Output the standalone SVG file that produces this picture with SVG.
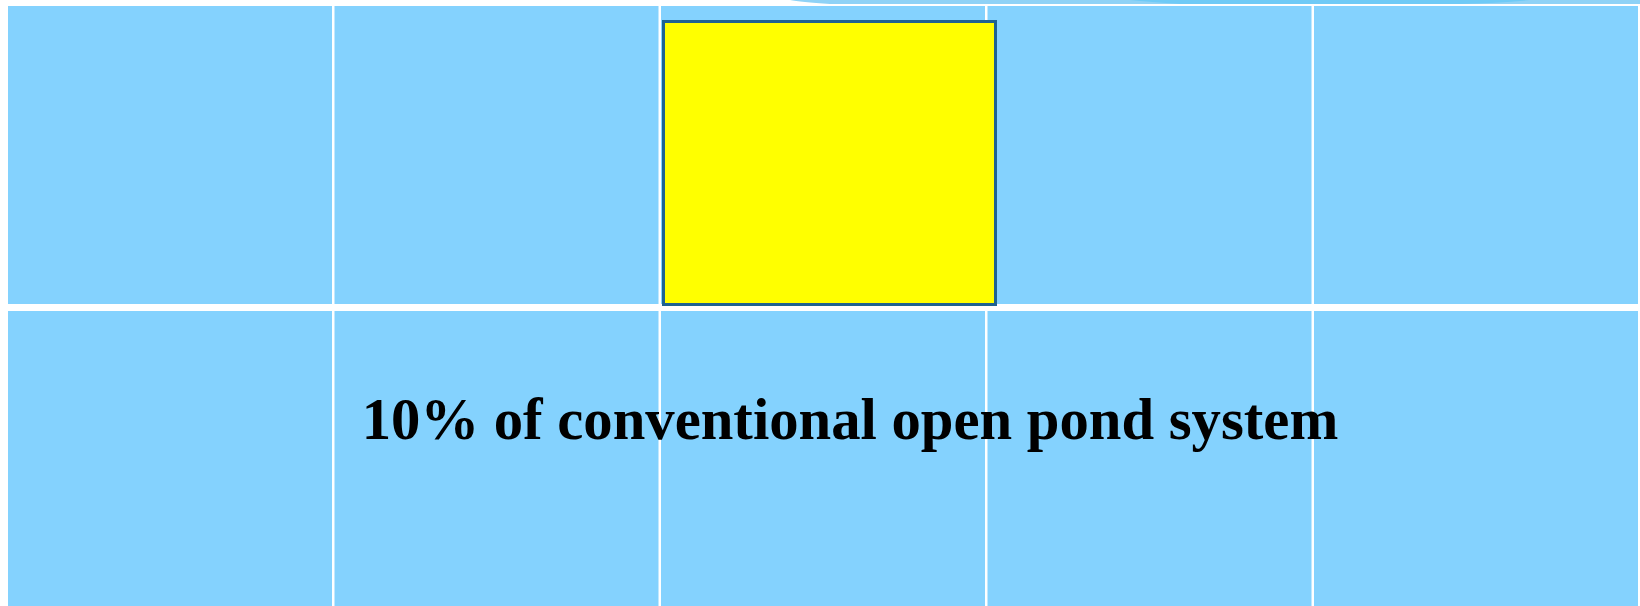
<svg xmlns="http://www.w3.org/2000/svg" width="1640" height="606" viewBox="0 0 1640 606">
  <style>
    .cell { fill: #84d2fe; }
    .label { font-family: "Liberation Serif", "Times New Roman", serif; font-weight: bold; font-size: 58.7px; fill: #000000; }
  </style>
  <rect x="0" y="0" width="1640" height="606" fill="#ffffff"/>
  <g id="top-edge">
    <path d="M 790 0 L 1640 0 L 1640 4 L 830 4 Q 800 2 790 0 Z" fill="#8fd2f6"/>
    <path d="M 1130 0 L 1530 0 Q 1500 3 1460 4 L 1180 4 Q 1150 2 1130 0 Z" fill="#6fcaf6"/>
  </g>
  <g id="grid">
    <rect class="cell" x="8" y="6" width="324" height="298"/>
    <rect class="cell" x="334.5" y="6" width="324" height="298"/>
    <rect class="cell" x="661" y="6" width="324" height="298"/>
    <rect class="cell" x="987.5" y="6" width="324" height="298"/>
    <rect class="cell" x="1314" y="6" width="324" height="298"/>
    <rect class="cell" x="8" y="311" width="324" height="295"/>
    <rect class="cell" x="334.5" y="311" width="324" height="295"/>
    <rect class="cell" x="661" y="311" width="324" height="295"/>
    <rect class="cell" x="987.5" y="311" width="324" height="295"/>
    <rect class="cell" x="1314" y="311" width="324" height="295"/>
  </g>
  <g id="yellow-box">
    <rect x="663.5" y="21.5" width="332" height="283" fill="#ffff00" stroke="#1f6391" stroke-width="3"/>
  </g>
  <g id="caption">
    <text class="label" x="850" y="439" text-anchor="middle">10% of conventional open pond system</text>
  </g>
</svg>
